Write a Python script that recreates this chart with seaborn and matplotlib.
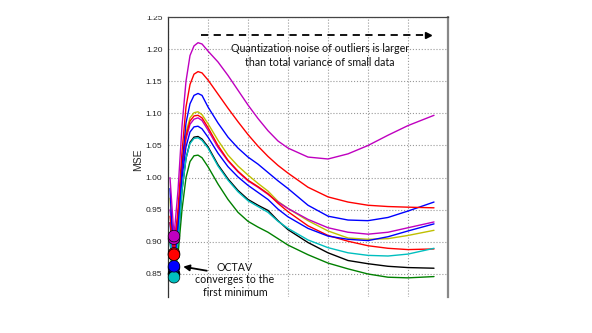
import numpy as np
import pandas as pd
import matplotlib
matplotlib.use("Agg")
import matplotlib.pyplot as plt
import seaborn as sns
from matplotlib.patches import Rectangle

# ---- data ----
x_vals = [0.05, 0.15, 0.25, 0.35, 0.45, 0.55, 0.65, 0.75, 0.85, 1.0, 1.25, 1.5, 1.75,
          2.0, 2.25, 2.5, 2.75, 3.0, 3.5, 4.0, 4.5, 5.0, 5.5, 6.0, 6.65]

green = [0.880, 0.850, 0.880, 0.950, 1.000, 1.025, 1.034, 1.035, 1.031, 1.017, 0.990, 0.966, 0.946,
         0.932, 0.923, 0.915, 0.905, 0.895, 0.880, 0.867, 0.858, 0.850, 0.845, 0.844, 0.846]
black = [0.900, 0.850, 0.900, 0.980, 1.030, 1.055, 1.063, 1.064, 1.060, 1.048, 1.020, 0.998, 0.980,
         0.966, 0.957, 0.949, 0.933, 0.919, 0.899, 0.883, 0.871, 0.866, 0.862, 0.860, 0.859]
yellow = [0.968, 0.880, 0.940, 1.020, 1.070, 1.093, 1.101, 1.1025, 1.098, 1.084, 1.058, 1.035, 1.018,
          1.004, 0.991, 0.979, 0.963, 0.952, 0.933, 0.917, 0.906, 0.904, 0.905, 0.910, 0.918]
magenta_low = [0.950, 0.905, 0.940, 1.010, 1.060, 1.083, 1.091, 1.093, 1.089, 1.074, 1.047, 1.026, 1.009,
               0.995, 0.985, 0.974, 0.962, 0.952, 0.935, 0.922, 0.915, 0.912, 0.915, 0.922, 0.931]
red_low = [0.940, 0.882, 0.940, 1.020, 1.065, 1.088, 1.096, 1.097, 1.093, 1.078, 1.050, 1.027, 1.010,
           0.996, 0.986, 0.975, 0.960, 0.947, 0.925, 0.910, 0.901, 0.894, 0.890, 0.888, 0.889]
blue_low = [0.930, 0.860, 0.920, 1.000, 1.048, 1.071, 1.079, 1.080, 1.076, 1.063, 1.038, 1.017, 1.001,
            0.988, 0.977, 0.966, 0.951, 0.939, 0.921, 0.909, 0.904, 0.902, 0.908, 0.917, 0.928]
cyan = [0.900, 0.845, 0.900, 0.980, 1.030, 1.053, 1.061, 1.062, 1.058, 1.046, 1.018, 0.996, 0.978,
        0.964, 0.955, 0.946, 0.932, 0.921, 0.903, 0.891, 0.883, 0.879, 0.878, 0.881, 0.890]
blue_top = [0.983, 0.862, 0.930, 1.020, 1.085, 1.115, 1.128, 1.131, 1.128, 1.110, 1.085, 1.063, 1.046,
            1.032, 1.021, 1.008, 0.995, 0.983, 0.957, 0.940, 0.934, 0.933, 0.938, 0.948, 0.962]
red_top = [0.930, 0.880, 0.950, 1.040, 1.110, 1.145, 1.161, 1.165, 1.163, 1.152, 1.130, 1.108, 1.087,
           1.067, 1.049, 1.033, 1.019, 1.007, 0.985, 0.970, 0.962, 0.957, 0.955, 0.954, 0.953]
magenta_top = [1.000, 0.909, 0.980, 1.080, 1.150, 1.190, 1.205, 1.210, 1.208, 1.197, 1.180, 1.159, 1.136,
               1.113, 1.092, 1.073, 1.057, 1.046, 1.032, 1.029, 1.037, 1.050, 1.066, 1.081, 1.097]

series = {
    "green": green, "black": black, "yellow": yellow, "magenta_low": magenta_low,
    "red_low": red_low, "blue_low": blue_low, "cyan": cyan, "blue_top": blue_top,
    "red_top": red_top, "magenta_top": magenta_top,
}
colors = {
    "green": "#008000", "black": "#000000", "yellow": "#bfbf00", "magenta_low": "#bf00bf",
    "red_low": "#ff0000", "blue_low": "#0000ff", "cyan": "#00bfbf", "blue_top": "#0000ff",
    "red_top": "#ff0000", "magenta_top": "#bf00bf",
}
yticks = [0.85, 0.90, 0.95, 1.00, 1.05, 1.10, 1.15, 1.20, 1.25]

rows = []
for name, vals in series.items():
    for xv, yv in zip(x_vals, vals):
        rows.append({"x": xv, "MSE": yv, "curve": name})
df = pd.DataFrame(rows)
order = list(series.keys())
start_idx = 1
df_min = pd.DataFrame({"x": [x_vals[start_idx]] * len(order),
                       "MSE": [series[n][start_idx] for n in order],
                       "curve": order})

sns.set_theme(style="white")
plt.rcParams["font.family"] = ["Liberation Sans", "DejaVu Sans"]

fig = plt.figure(figsize=(5.92, 3.33), dpi=100)
ax = fig.add_axes([168 / 592, 1 - 297 / 333, 280 / 592, 280 / 333])

sns.lineplot(data=df, x="x", y="MSE", hue="curve", hue_order=order, palette=colors,
             sort=False, estimator=None, legend=False, linewidth=1.0, ax=ax)
sns.scatterplot(data=df_min, x="x", y="MSE", hue="curve", hue_order=order, palette=colors,
                s=70, edgecolor="black", linewidth=0.5, legend=False, ax=ax, zorder=5,
                clip_on=False)

ax.set_xlim(0, 7)
ax.set_ylim(0.8142, 1.2498)
ax.set_xticks(range(0, 8))
ax.set_xticklabels([])
ax.set_yticks(yticks)
ax.set_yticklabels([f"{v:.2f}" for v in yticks])
ax.tick_params(axis="y", direction="in", length=3, labelsize=6, pad=4, colors="#222222")
ax.tick_params(axis="x", length=0)
ax.grid(True, linestyle=":", color="#999999", linewidth=0.8)
ax.set_xlabel("")
ax.set_ylabel("MSE", fontsize=7.5)
ax.yaxis.set_label_coords(-0.09, 0.49)

for side in ["left", "top", "right"]:
    ax.spines[side].set_visible(True)
ax.spines["left"].set_color("#333333")
ax.spines["left"].set_linewidth(0.9)
ax.spines["top"].set_color("#444444")
ax.spines["top"].set_linewidth(0.9)
ax.spines["right"].set_color("#888888")
ax.spines["right"].set_linewidth(1.6)
ax.spines["bottom"].set_visible(False)

# dashed arrow at top
ax.plot([0.825, 6.45], [1.222, 1.222], color="black", lw=1.3, dashes=(4, 3))
ax.plot([6.5], [1.222], marker=">", color="black", markersize=5, clip_on=False)

ann_font = ["Lato", "DejaVu Sans"]
ax.text(3.8, 1.19, "Quantization noise of outliers is larger\nthan total variance of small data",
        ha="center", va="center", fontsize=7.7, family=ann_font, linespacing=1.25,
        color="#111111")
ax.text(1.675, 0.8407, "OCTAV\nconverges to the\nfirst minimum",
        ha="center", va="center", fontsize=7.7, family=ann_font, linespacing=1.2,
        color="#111111", clip_on=False)
ax.annotate("", xy=(0.38, 0.8614), xytext=(0.97, 0.8551),
            arrowprops=dict(arrowstyle="-|>", color="black", lw=1.3, mutation_scale=9,
                            shrinkA=0, shrinkB=0))

# top crop mask like reference
fig.patches.append(Rectangle((0, 1 - 16.3 / 333), 1, 16.3 / 333, transform=fig.transFigure,
                             facecolor="white", edgecolor="none", zorder=10))

fig.savefig("out.png", dpi=100)
